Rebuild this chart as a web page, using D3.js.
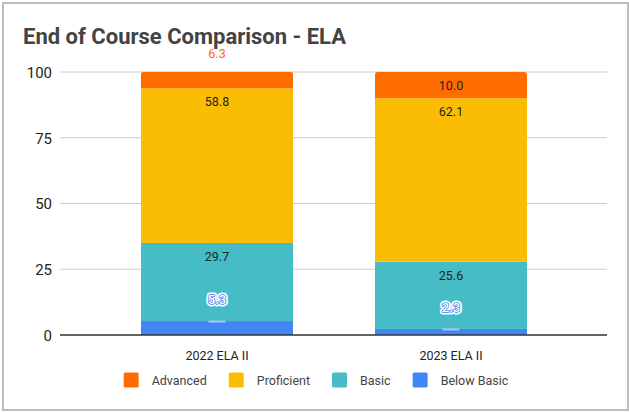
<!DOCTYPE html>
<html>
<head>
<meta charset="utf-8">
<script src="https://cdn.jsdelivr.net/npm/d3@7"></script>
<style>
  body { margin: 0; background: #fff; }
  svg { display: block; font-family: Roboto, "Noto Sans", sans-serif; }
</style>
</head>
<body>
<svg id="chart" width="629" height="412"></svg>
<script>
// End of course results, percent of students by performance level
const categories = ["2022 ELA II", "2023 ELA II"];
const seriesNames = ["Below Basic", "Basic", "Proficient", "Advanced"];
const belowBasic = [5.3, 2.3];
const basic = [29.7, 25.6];
const proficient = [58.8, 62.1];
const advanced = [6.3, 10.0];
const yTicks = [0, 25, 50, 75, 100];
const legendOrder = ["Advanced", "Proficient", "Basic", "Below Basic"];
const colors = {
  "Advanced": "#ff6d01",
  "Proficient": "#fbbc04",
  "Basic": "#46bdc6",
  "Below Basic": "#4285f4"
};

const rows = categories.map((c, i) => ({
  category: c,
  "Below Basic": belowBasic[i],
  "Basic": basic[i],
  "Proficient": proficient[i],
  "Advanced": advanced[i]
}));

const svg = d3.select("#chart");

// outer frame
svg.append("rect")
  .attr("x", 3).attr("y", 3).attr("width", 625).attr("height", 407)
  .attr("fill", "#fff").attr("stroke", "#bdbdbd").attr("stroke-width", 2);

// title
svg.append("text")
  .attr("x", 23).attr("y", 44)
  .attr("font-size", 22).attr("font-weight", 700)
  .attr("fill", "#434343")
  .text("End of Course Comparison - ELA");

const plotLeft = 60, plotRight = 607;
const x = d3.scaleBand().domain(categories).range([100, 568])
  .paddingInner(0.35).paddingOuter(0.175);
const y = d3.scaleLinear().domain([0, 100]).range([335, 72]);

// gridlines
svg.append("g").selectAll("line")
  .data(yTicks.filter(t => t !== 0))
  .join("line")
  .attr("x1", plotLeft).attr("x2", plotRight)
  .attr("y1", d => y(d)).attr("y2", d => y(d))
  .attr("stroke", "#cccccc").attr("stroke-width", 1);

// y axis labels
const yAxis = d3.axisLeft(y).tickValues(yTicks).tickSize(0).tickPadding(0);
const yg = svg.append("g").attr("transform", `translate(${plotLeft - 8},0)`).call(yAxis);
yg.select(".domain").remove();
yg.selectAll("text")
  .attr("font-family", "Roboto, sans-serif")
  .attr("font-size", 15).attr("fill", "#222").attr("dy", "0.36em");

// stacked bars
const stack = d3.stack().keys(seriesNames);
const series = stack(rows);

const defs = svg.append("defs");
categories.forEach((c, i) => {
  const top = d3.sum(seriesNames, k => rows[i][k]);
  defs.append("clipPath").attr("id", "clip" + i)
    .append("rect")
    .attr("x", x(c)).attr("y", y(top))
    .attr("width", x.bandwidth()).attr("height", y(0) - y(top) + 10)
    .attr("rx", 3);
});

const barG = svg.append("g");
series.forEach(s => {
  s.forEach((d, i) => {
    barG.append("rect")
      .attr("clip-path", `url(#clip${i})`)
      .attr("x", x(d.data.category))
      .attr("y", y(d[1]))
      .attr("width", x.bandwidth())
      .attr("height", y(d[0]) - y(d[1]))
      .attr("fill", colors[s.key]);
  });
});

// category labels and baseline
const xAxis = d3.axisBottom(x).tickSize(0).tickPadding(0);
const xg = svg.append("g").attr("transform", `translate(0,${y(0)})`).call(xAxis);
xg.select(".domain").remove();
xg.selectAll("text")
  .attr("font-family", "Roboto, sans-serif")
  .attr("font-size", 12.5).attr("fill", "#222").attr("dy", 0).attr("y", 25);
svg.append("line")
  .attr("x1", plotLeft).attr("x2", plotRight)
  .attr("y1", y(0)).attr("y2", y(0))
  .attr("stroke", "#333").attr("stroke-width", 1.4);

// value labels
const labelG = svg.append("g").attr("text-anchor", "middle");
series.forEach(s => {
  s.forEach(d => {
    const cx = x(d.data.category) + x.bandwidth() / 2;
    const top = y(d[1]);
    const h = y(d[0]) - y(d[1]);
    const v = d.data[s.key];
    const txt = v.toFixed(1);
    if (h >= 20) {
      labelG.append("text")
        .attr("x", cx).attr("y", top + 18)
        .attr("font-size", 12.5).attr("fill", "#222")
        .text(txt);
    } else if (s.key === "Advanced") {
      labelG.append("text")
        .attr("x", cx).attr("y", top - 14)
        .attr("font-size", 12.5).attr("fill", colors[s.key])
        .text(txt);
    } else {
      // leader tick at the segment top
      labelG.append("line")
        .attr("x1", cx - 8.5).attr("x2", cx + 8.5)
        .attr("y1", top + 0.5).attr("y2", top + 0.5)
        .attr("stroke", "#aac3f7").attr("stroke-width", 2);
      labelG.append("text")
        .attr("x", cx).attr("y", top - 17)
        .attr("font-size", 13).attr("font-weight", 500)
        .attr("fill", "none").attr("stroke", "#fff")
        .attr("stroke-width", 5).attr("stroke-linejoin", "round")
        .text(txt);
      labelG.append("text")
        .attr("x", cx).attr("y", top - 17)
        .attr("font-size", 13).attr("font-weight", 500)
        .attr("fill", "#fff").attr("stroke", colors[s.key])
        .attr("stroke-width", 1.6).attr("paint-order", "stroke")
        .attr("stroke-linejoin", "round")
        .text(txt);
    }
  });
});

// legend
const legend = svg.append("g");
const items = legendOrder.map(name => {
  const g = legend.append("g");
  g.append("rect").attr("width", 15).attr("height", 15).attr("rx", 1.5)
    .attr("y", 372.5).attr("fill", colors[name]);
  const t = g.append("text").attr("x", 28).attr("y", 384.5)
    .attr("font-size", 12.5).attr("fill", "#444").text(name);
  return { g, w: 28 + t.node().getComputedTextLength() };
});
const gap = 22;
const total = d3.sum(items, d => d.w) + gap * (items.length - 1);
let cursor = 316 - total / 2;
items.forEach(it => {
  it.g.attr("transform", `translate(${cursor},0)`);
  cursor += it.w + gap;
});
</script>
</body>
</html>
